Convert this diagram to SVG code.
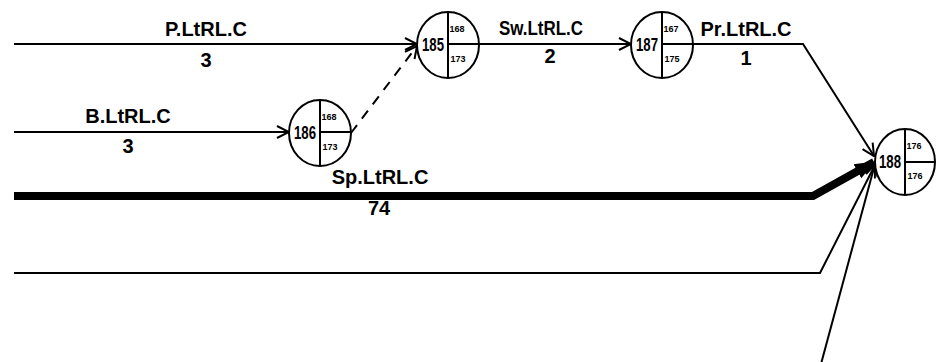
<svg xmlns="http://www.w3.org/2000/svg" width="936" height="362" viewBox="0 0 936 362">
<style>
.ln{fill:none;stroke:#000;stroke-width:2}
.thick{fill:none;stroke:#000;stroke-width:8;stroke-linejoin:miter}
.dash{fill:none;stroke:#000;stroke-width:2;stroke-dasharray:10 8}
.nd{fill:#fff;stroke:#000;stroke-width:2}
.dv{stroke:#000;stroke-width:2}
.lbl{font-family:"Liberation Sans",Arial,sans-serif;font-weight:bold;font-size:20px;text-anchor:middle;fill:#000}
.num{font-family:"Liberation Sans",Arial,sans-serif;font-weight:bold;font-size:18px;text-anchor:end;fill:#000}
.sm{font-family:"Liberation Sans",Arial,sans-serif;font-weight:bold;font-size:9px;text-anchor:middle;fill:#000}
</style>
<defs>
<marker id="arr" markerUnits="userSpaceOnUse" viewBox="0 0 14 14" markerWidth="14" markerHeight="14" refX="13" refY="7" orient="auto">
<path d="M1,1 L13,7 L1,13" fill="none" stroke="#000" stroke-width="2"/>
</marker>
<marker id="arrF" markerUnits="userSpaceOnUse" viewBox="0 0 20 20" markerWidth="20" markerHeight="20" refX="19" refY="10" orient="auto">
<path d="M0,2 L20,10 L0,18 Z" fill="#000"/>
</marker>
</defs>
<rect width="936" height="362" fill="#fff"/>
<g id="connectors">
<path class="ln" d="M14,44 L417,44" marker-end="url(#arr)"/>
<path class="dash" d="M351,133 L417,46" marker-end="url(#arr)"/>
<path class="ln" d="M14,132 L289,132" marker-end="url(#arr)"/>
<path class="ln" d="M479,44 L631,44" marker-end="url(#arr)"/>
<path class="ln" d="M693,44 L803,44 L874,156" marker-end="url(#arr)"/>
<path class="thick" d="M14,196 L813,196 L874,162" marker-end="url(#arrF)"/>
<path class="ln" d="M14,273 L820,273 L875,165" marker-end="url(#arr)"/>
<path class="ln" d="M821,364 L875,164" marker-end="url(#arr)"/>
</g>
<g id="labels">
<text class="lbl" x="206" y="36">P.LtRL.C</text>
<text class="lbl" x="206" y="67">3</text>
<text class="lbl" x="128" y="123">B.LtRL.C</text>
<text class="lbl" x="128" y="153">3</text>
<text class="lbl" x="541" y="35" textLength="84" lengthAdjust="spacingAndGlyphs">Sw.LtRL.C</text>
<text class="lbl" x="550" y="63">2</text>
<text class="lbl" x="746" y="36">Pr.LtRL.C</text>
<text class="lbl" x="746" y="65">1</text>
<text class="lbl" x="380" y="184">Sp.LtRL.C</text>
<text class="lbl" x="379" y="215">74</text>
</g>
<g id="node185">
<ellipse class="nd" cx="448" cy="45" rx="31" ry="33"/>
<line class="dv" x1="448" y1="12" x2="448" y2="78"/>
<line class="dv" x1="448" y1="44" x2="479" y2="44"/>
<text class="num" x="444" y="51" textLength="22" lengthAdjust="spacingAndGlyphs">185</text>
<text class="sm" x="457" y="32">168</text>
<text class="sm" x="458" y="62">173</text>
</g>
<g id="node186">
<ellipse class="nd" cx="320" cy="133" rx="31" ry="33"/>
<line class="dv" x1="320" y1="100" x2="320" y2="166"/>
<line class="dv" x1="320" y1="132" x2="351" y2="132"/>
<text class="num" x="316" y="139" textLength="22" lengthAdjust="spacingAndGlyphs">186</text>
<text class="sm" x="329" y="120">168</text>
<text class="sm" x="330" y="150">173</text>
</g>
<g id="node187">
<ellipse class="nd" cx="662" cy="45" rx="31" ry="33"/>
<line class="dv" x1="662" y1="12" x2="662" y2="78"/>
<line class="dv" x1="662" y1="44" x2="693" y2="44"/>
<text class="num" x="658" y="51" textLength="22" lengthAdjust="spacingAndGlyphs">187</text>
<text class="sm" x="671" y="32">167</text>
<text class="sm" x="672" y="62">175</text>
</g>
<g id="node188">
<ellipse class="nd" cx="905" cy="162" rx="30" ry="33"/>
<line class="dv" x1="905" y1="129" x2="905" y2="195"/>
<line class="dv" x1="905" y1="162" x2="935" y2="162"/>
<text class="num" x="901" y="168" textLength="22" lengthAdjust="spacingAndGlyphs">188</text>
<text class="sm" x="914" y="149">176</text>
<text class="sm" x="915" y="179">176</text>
</g>
</svg>
